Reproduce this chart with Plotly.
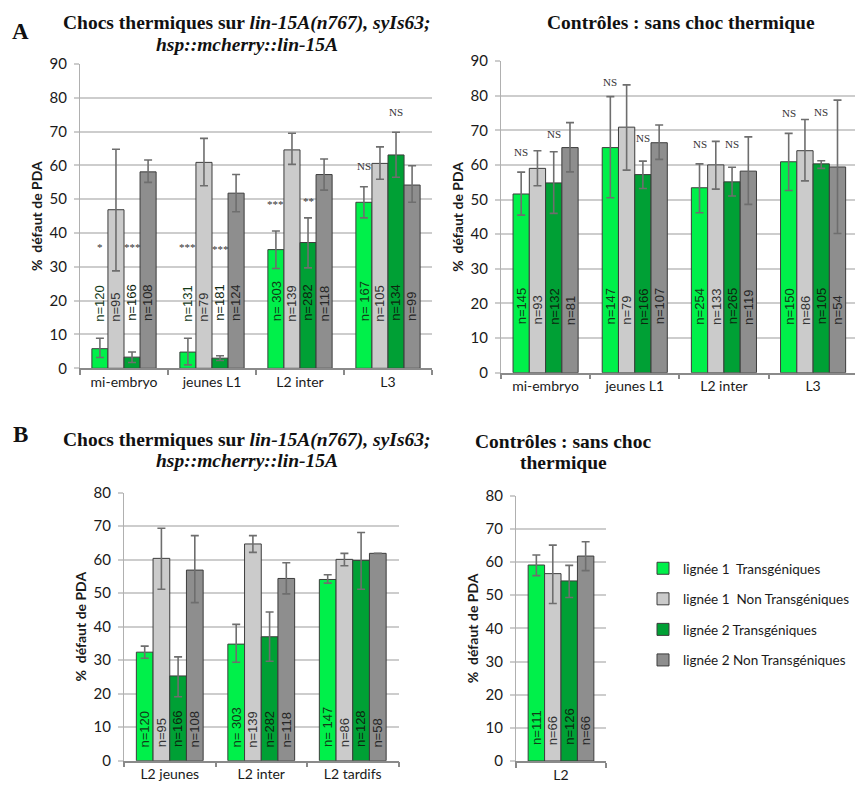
import plotly.graph_objects as go

# ---------------- DATA ----------------
series_names = ["lignée 1  Transgéniques", "lignée 1  Non Transgéniques",
                "lignée 2 Transgéniques", "lignée 2 Non Transgéniques"]

# Panel A left : heat shocks
cats_A = ["mi-embryo", "jeunes L1", "L2 inter", "L3"]
A_hs_vals = [[5.8, 4.8, 35.1, 49.1],
             [46.9, 60.9, 64.6, 60.6],
             [3.3, 3.0, 37.2, 63.1],
             [58.1, 51.8, 57.3, 54.2]]
A_hs_hi = [[8.9, 8.9, 40.6, 53.7],
           [64.8, 68.0, 69.5, 65.5],
           [4.8, 3.7, 44.5, 69.8],
           [61.6, 57.3, 61.9, 59.9]]
A_hs_lo = [[3.2, 1.0, 29.5, 44.5],
           [28.8, 54.0, 60.3, 55.9],
           [1.7, 2.3, 29.7, 56.5],
           [55.0, 46.3, 52.7, 49.1]]
A_hs_n = [["n=120", "n=131", "n= 303", "n= 167"],
          ["n=95", "n=79", "n=139", "n=105"],
          ["n=166", "n=181", "n=282", "n=134"],
          ["n=108", "n=124", "n=118", "n=99"]]

# Panel A right : controls
A_ct_vals = [[51.6, 65.0, 53.4, 60.9],
             [59.0, 70.9, 60.0, 64.1],
             [54.8, 57.2, 55.1, 60.3],
             [65.0, 66.4, 58.2, 59.4]]
A_ct_hi = [[57.9, 79.7, 60.3, 69.1],
           [64.1, 83.1, 66.8, 73.1],
           [63.8, 61.1, 59.3, 61.2],
           [72.2, 71.5, 68.1, 78.7]]
A_ct_lo = [[45.5, 50.5, 46.2, 52.6],
           [54.0, 58.5, 53.0, 55.4],
           [46.0, 53.2, 51.0, 59.0],
           [58.0, 61.6, 48.6, 40.2]]
A_ct_n = [["n=145", "n=147", "n=254", "n=150"],
          ["n=93", "n=79", "n=133", "n=86"],
          ["n=132", "n=166", "n=265", "n=105"],
          ["n=81", "n=107", "n=119", "n=54"]]

# Panel B left : heat shocks
cats_B = ["L2 jeunes", "L2 inter", "L2 tardifs"]
B_hs_vals = [[32.4, 34.8, 54.1],
             [60.4, 64.7, 60.1],
             [25.3, 37.0, 59.8],
             [56.9, 54.4, 61.9]]
B_hs_hi = [[34.2, 40.7, 55.5],
           [69.4, 67.2, 61.9],
           [31.0, 44.4, 68.1],
           [67.2, 59.1, 61.9]]
B_hs_lo = [[30.6, 29.4, 53.0],
           [51.2, 62.2, 58.2],
           [19.1, 29.7, 51.2],
           [47.2, 49.8, 61.9]]
B_hs_n = [["n=120", "n= 303", "n= 147"],
          ["n=95", "n=139", "n=86"],
          ["n=166", "n=282", "n=128"],
          ["n=108", "n=118", "n=58"]]

# Panel B right : controls
cats_Bc = ["L2"]
B_ct_vals = [[59.1], [56.5], [54.3], [61.8]]
B_ct_hi = [[62.1], [65.1], [59.0], [66.1]]
B_ct_lo = [[55.9], [47.5], [49.3], [57.4]]
B_ct_n = [["n=111"], ["n=66"], ["n=126"], ["n=66"]]

# significance labels: (category index, series index, text, y)
A_hs_sig = [(0, 0, "*", 33.5), (0, 2, "***", 33.5), (1, 0, "***", 33.5), (1, 2, "***", 33.0),
            (2, 0, "***", 46.3), (2, 2, "**", 47.0), (3, 0, "NS", 57.4), (3, 2, "NS", 73.3)]
A_ct_sig = [(0, 0, "NS", 61.4), (0, 2, "NS", 66.5), (1, 0, "NS", 81.6), (1, 2, "NS", 65.5),
            (2, 0, "NS", 63.8), (2, 2, "NS", 63.8), (3, 0, "NS", 72.8), (3, 2, "NS", 72.9)]

# ---------------- STYLE ----------------
W, H = 855, 789
colors = ["#00f04a", "#cbcbcb", "#00a035", "#8e8e8e"]
ntext_colors = ["#123a18", "#333333", "#0d260f", "#262626"]
BARGAP = 0.27
sans = "Lato, Liberation Sans, sans-serif"
serif = "Liberation Serif, DejaVu Serif, serif"
narrow = "Liberation Sans Narrow, Liberation Sans, sans-serif"

def px_x(x):
    return x / W

def px_y(y):
    return 1 - y / H

panels = [
    dict(cats=cats_A, vals=A_hs_vals, hi=A_hs_hi, lo=A_hs_lo, n=A_hs_n, ymax=90,
         xd=(80, 432), yd=(64, 368.3), xr=None, ny=13.3, sig=A_hs_sig),
    dict(cats=cats_A, vals=A_ct_vals, hi=A_ct_hi, lo=A_ct_lo, n=A_ct_n, ymax=90,
         xd=(501, 855), yd=(61, 372.7), xr=[-0.5, 3.47], ny=13.3, sig=A_ct_sig),
    dict(cats=cats_B, vals=B_hs_vals, hi=B_hs_hi, lo=B_hs_lo, n=B_hs_n, ymax=80,
         xd=(124, 398.5), yd=(492.7, 760.7), xr=None, ny=3.4, sig=[]),
    dict(cats=cats_Bc, vals=B_ct_vals, hi=B_ct_hi, lo=B_ct_lo, n=B_ct_n, ymax=80,
         xd=(516, 606), yd=(495.7, 761), xr=None, ny=4.2, sig=[]),
]

fig = go.Figure()
annotations = []
layout_axes = {}

for p_i, p in enumerate(panels):
    sfx = "" if p_i == 0 else str(p_i + 1)
    xa, ya = "x" + sfx, "y" + sfx
    for s in range(4):
        v = p["vals"][s]
        up = [h - a for h, a in zip(p["hi"][s], v)]
        dn = [a - l for a, l in zip(v, p["lo"][s])]
        fig.add_trace(go.Bar(
            x=p["cats"], y=v, name=series_names[s],
            marker=dict(color=colors[s], line=dict(color="#3c3c3c", width=1)),
            error_y=dict(type="data", symmetric=False, array=up, arrayminus=dn,
                         color="#6e6e6e", thickness=1.6, width=4, visible=True),
            xaxis=xa, yaxis=ya, showlegend=(p_i == 0),
            legendgroup="g%d" % s, hoverinfo="skip",
        ))
        off = (s - 1.5) * (1 - BARGAP) / 4
        for c_i, lab in enumerate(p["n"][s]):
            annotations.append(dict(
                x=c_i + off, y=p["ny"], xref=xa, yref=ya, text=lab,
                textangle=-90, showarrow=False, yanchor="bottom", xanchor="center",
                font=dict(family=narrow, size=13, color=ntext_colors[s])))
    for (c_i, s, txt, yv) in p["sig"]:
        off = (s - 1.5) * (1 - BARGAP) / 4
        annotations.append(dict(
            x=c_i + off, y=yv, xref=xa, yref=ya, text=txt, showarrow=False,
            yanchor="bottom", xanchor="center",
            font=dict(family=serif, size=11, color="#333333")))

    xkey = "xaxis" + sfx
    ykey = "yaxis" + sfx
    layout_axes[xkey] = dict(
        domain=[px_x(p["xd"][0]), px_x(p["xd"][1])], anchor=ya, automargin=False,
        type="category", showgrid=False, showline=True, linecolor="#8a8a8a", linewidth=1.5,
        ticks="outside", tickson="boundaries", ticklen=5, tickcolor="#8a8a8a", tickwidth=1.5,
        tickfont=dict(family=sans, size=14, color="#1a1a1a"), zeroline=False,
        fixedrange=True,
    )
    if p["xr"] is not None:
        layout_axes[xkey]["range"] = p["xr"]
    layout_axes[ykey] = dict(
        domain=[px_y(p["yd"][1]), px_y(p["yd"][0])], anchor=xa, automargin=False,
        range=[0, p["ymax"]], dtick=10, showgrid=True, gridcolor="#cdcdcd", gridwidth=1.5,
        showline=True, linecolor="#b0b0b0", linewidth=1.2, zeroline=False,
        ticks="outside", ticklen=5, tickcolor="#cdcdcd", tickwidth=1.5,
        ticklabelstandoff=4,
        tickfont=dict(family=sans, size=15, color="#1a1a1a"),
        title=dict(text="<b>%  défaut de PDA</b>", font=dict(family=sans, size=14, color="#1a1a1a"),
                   standoff=3),
        fixedrange=True,
    )

title_font = dict(family=serif, size=19.5, color="#111111")
def title(x, y, text):
    annotations.append(dict(x=px_x(x), y=px_y(y), xref="paper", yref="paper", text=text,
                            showarrow=False, xanchor="center", yanchor="middle",
                            font=title_font))

title(247, 23, "<b>Chocs thermiques sur <i>lin-15A(n767), syIs63;</i></b>")
title(247, 44, "<b><i>hsp::mcherry::lin-15A</i></b>")
title(681, 23, "<b>Contrôles : sans choc thermique</b>")
title(247, 440, "<b>Chocs thermiques sur <i>lin-15A(n767), syIs63;</i></b>")
title(247, 461, "<b><i>hsp::mcherry::lin-15A</i></b>")
title(563, 441, "<b>Contrôles : sans choc</b>")
title(563, 462, "<b>thermique</b>")

for lab, y in [("A", 31), ("B", 434)]:
    annotations.append(dict(x=px_x(20), y=px_y(y), xref="paper", yref="paper", text="<b>%s</b>" % lab,
                            showarrow=False, xanchor="center", yanchor="middle",
                            font=dict(family=serif, size=23, color="#111111")))

fig.update_layout(
    width=W, height=H, margin=dict(l=0, r=0, t=0, b=0, autoexpand=False),
    paper_bgcolor="white", plot_bgcolor="white",
    barmode="group", bargap=BARGAP, bargroupgap=0,
    annotations=annotations,
    legend=dict(x=px_x(643), y=px_y(553), xanchor="left", yanchor="top",
                font=dict(family=sans, size=13.5, color="#1a1a1a"),
                tracegroupgap=10, bgcolor="rgba(0,0,0,0)", itemwidth=30),
    **layout_axes,
)

fig.write_html("out.html", config={"displayModeBar": False, "staticPlot": False},
               post_script="document.body.style.margin='0';document.body.style.overflow='hidden';")
